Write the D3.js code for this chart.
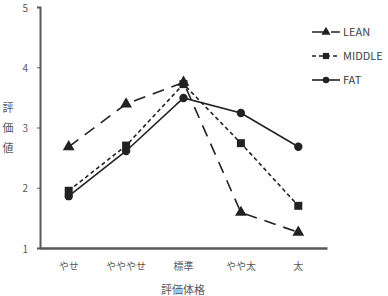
<!DOCTYPE html>
<html>
<head>
<meta charset="utf-8">
<script src="https://cdn.jsdelivr.net/npm/d3@7"></script>
<style>
  body { margin: 0; background: #fff; }
  text { font-family: "Noto Sans CJK JP", "DejaVu Sans", sans-serif; }
</style>
</head>
<body>
<div id="chart"></div>
<script>
const categories = ["やせ", "やややせ", "標準", "やや太", "太"];
const lean = [2.68, 3.39, 3.75, 1.59, 1.26];
const middle = [1.95, 2.70, 3.72, 2.74, 1.70];
const fat = [1.86, 2.61, 3.49, 3.24, 2.68];
const yTicks = [1, 2, 3, 4, 5];

const series = [
    {name: "LEAN", values: lean, dash: "12,8", legendDash: "12,7", marker: d3.symbolTriangle, size: 60},
    {name: "MIDDLE", values: middle, dash: "4,3", legendDash: "4,3", marker: d3.symbolSquare, size: 64},
    {name: "FAT", values: fat, dash: null, legendDash: null, marker: d3.symbolCircle, size: 55},
];

const svg = d3.select("#chart").append("svg")
    .attr("width", 388)
    .attr("height", 296);

const x = d3.scaleBand().domain(categories).range([40, 327]);
const y = d3.scaleLinear().domain([1, 5]).range([248, 7]);

// axes
const yAxis = svg.append("g")
    .attr("transform", "translate(40,0)")
    .call(d3.axisLeft(y).tickValues(yTicks).tickSize(3).tickPadding(9).tickFormat(d3.format("d")));
yAxis.select(".domain").attr("stroke", "#595959").attr("stroke-width", 2);
yAxis.selectAll(".tick line").attr("stroke", "#595959");
yAxis.selectAll(".tick text")
    .attr("fill", "#595959")
    .attr("font-size", 10)
    .attr("dy", "0.4em")
    .attr("font-family", "DejaVu Sans, sans-serif");

const xAxis = svg.append("g")
    .attr("transform", "translate(0,248)")
    .call(d3.axisBottom(x).tickSize(0).tickPadding(15));
xAxis.select(".domain").attr("stroke", "#595959").attr("stroke-width", 2.5);
xAxis.selectAll(".tick text").attr("fill", "#595959").attr("font-size", 10);

// axis titles
const yLabel = svg.append("text")
    .attr("fill", "#595959")
    .attr("font-size", 11)
    .attr("text-anchor", "middle");
["評", "価", "値"].forEach(function(ch, i) {
    yLabel.append("tspan").attr("x", 8).attr("y", 112 + i * 20).text(ch);
});

svg.append("text")
    .attr("x", 183)
    .attr("y", 294)
    .attr("text-anchor", "middle")
    .attr("fill", "#595959")
    .attr("font-size", 11)
    .text("評価体格");

// series
const line = d3.line()
    .x((d, i) => x(categories[i]) + x.bandwidth() / 2)
    .y(d => y(d));

series.forEach(function(s) {
    svg.append("path")
        .datum(s.values)
        .attr("d", line)
        .attr("fill", "none")
        .attr("stroke", "#222")
        .attr("stroke-width", 1.6)
        .attr("stroke-dasharray", s.dash);

    svg.selectAll(null)
        .data(s.values)
        .enter().append("path")
        .attr("d", d3.symbol().type(s.marker).size(s.size))
        .attr("transform", (d, i) => "translate(" + (x(categories[i]) + x.bandwidth() / 2) + "," + y(d) + ")")
        .attr("fill", "#222");
});

// legend
series.forEach(function(s, i) {
    const ly = 32 + i * 24;
    svg.append("line")
        .attr("x1", 312).attr("x2", 340)
        .attr("y1", ly).attr("y2", ly)
        .attr("stroke", "#222")
        .attr("stroke-width", 1.6)
        .attr("stroke-dasharray", s.legendDash);
    svg.append("path")
        .attr("d", d3.symbol().type(s.marker).size(s.size * 0.6))
        .attr("transform", "translate(326," + ly + ")")
        .attr("fill", "#222");
    svg.append("text")
        .attr("x", 343)
        .attr("y", ly + 4)
        .attr("fill", "#404040")
        .attr("font-size", 11)
        .attr("font-family", "DejaVu Sans, sans-serif")
        .text(s.name);
});
</script>
</body>
</html>
